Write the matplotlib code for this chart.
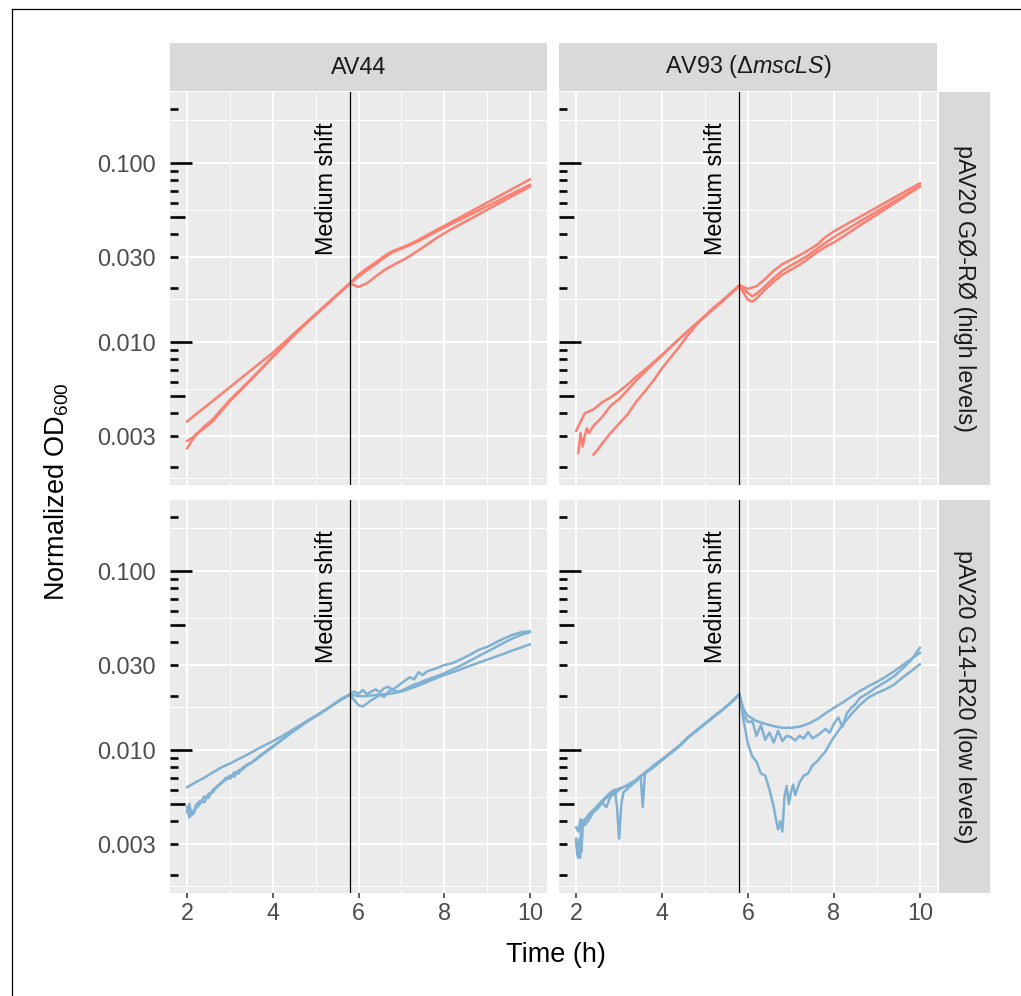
import matplotlib
matplotlib.use('Agg')
import matplotlib.pyplot as plt
from matplotlib.transforms import blended_transform_factory
from matplotlib.lines import Line2D
from matplotlib.ticker import FixedLocator, NullFormatter

plt.rcParams['font.family'] = ['Liberation Sans', 'DejaVu Sans']
plt.rcParams['mathtext.fontset'] = 'custom'
plt.rcParams['mathtext.rm'] = 'Liberation Sans'
plt.rcParams['mathtext.it'] = 'Liberation Sans:italic'

# ---- data (time in h, normalized OD600) ----
strains = ['AV44', 'AV93 (Δ$\\mathit{mscLS}$)']
plasmids = ['pAV20 GØ-RØ (high levels)', 'pAV20 G14-R20 (low levels)']
line_colors = ['#FB8072', '#80B1D3']
shift_time = 5.8

y_breaks = [0.003, 0.010, 0.030, 0.100]
y_labels = ['0.003', '0.010', '0.030', '0.100']
x_breaks = [2, 4, 6, 8, 10]

hours = [2.0, 2.2, 2.4, 2.6, 2.8, 3.0, 3.2, 3.4, 3.6, 3.8, 4.0, 4.2, 4.4, 4.6, 4.8,
         5.0, 5.2, 5.4, 5.6, 5.8, 6.0, 6.2, 6.4, 6.6, 6.8, 7.0, 7.2, 7.4, 7.6, 7.8,
         8.0, 8.2, 8.4, 8.6, 8.8, 9.0, 9.2, 9.4, 9.6, 9.8, 10.0]

# AV44, high levels
av44_hi_1 = [0.00360, 0.00394, 0.00430, 0.00469, 0.00513, 0.00560, 0.00612, 0.00668, 0.00730, 0.00798,
             0.00871, 0.00962, 0.01062, 0.01175, 0.01297, 0.01432, 0.01581, 0.01746, 0.01928, 0.02128,
             0.0238, 0.0258, 0.0278, 0.0302, 0.0322, 0.0336, 0.0352, 0.0372, 0.0395, 0.0420,
             0.0445, 0.0472, 0.0501, 0.0532, 0.0565, 0.0600, 0.0637, 0.0676, 0.0718, 0.0762, 0.0809]
av44_hi_2 = [0.00280, 0.00300, 0.00338, 0.00370, 0.00420, 0.00475, 0.00530, 0.00590, 0.00660, 0.00740,
             0.00830, 0.00930, 0.01040, 0.01160, 0.01290, 0.01425, 0.01575, 0.01740, 0.01925, 0.02125,
             0.0232, 0.0252, 0.0272, 0.0296, 0.0318, 0.0332, 0.0348, 0.0366, 0.0388, 0.0412,
             0.0436, 0.0460, 0.0486, 0.0514, 0.0543, 0.0573, 0.0605, 0.0640, 0.0676, 0.0714, 0.0755]
av44_hi_3 = [0.00255, 0.00305, 0.00330, 0.00362, 0.00412, 0.00468, 0.00522, 0.00585, 0.00655, 0.00735,
             0.00825, 0.00925, 0.01035, 0.01155, 0.01285, 0.01420, 0.01570, 0.01735, 0.01920, 0.02120,
             0.0203, 0.0213, 0.0232, 0.0252, 0.0268, 0.0284, 0.0302, 0.0325, 0.0350, 0.0378,
             0.0405, 0.0431, 0.0457, 0.0485, 0.0515, 0.0547, 0.0581, 0.0617, 0.0655, 0.0695, 0.0738]

# AV93, high levels
av93_hi_1 = [0.0032, 0.0040, 0.0042, 0.0046, 0.0049, 0.0053, 0.0058, 0.0064, 0.0070, 0.0077,
             0.0085, 0.0094, 0.0104, 0.0115, 0.0127, 0.0140, 0.0154, 0.0170, 0.0188, 0.0208,
             0.0198, 0.0205, 0.0225, 0.0250, 0.0272, 0.0288, 0.0305, 0.0325, 0.0348, 0.0385,
             0.0415, 0.0441, 0.0470, 0.0499, 0.0531, 0.0565, 0.0601, 0.0640, 0.0680, 0.0723, 0.0769]
av93_hi_2_t = [2.05, 2.1, 2.15, 2.2, 2.25, 2.3, 2.4, 2.6, 2.8, 3.0, 3.2, 3.4, 3.6, 3.8, 4.0, 4.2, 4.4,
               4.6, 4.8, 5.0, 5.2, 5.4, 5.6, 5.8, 6.0, 6.1, 6.2, 6.4, 6.6, 6.8, 7.0, 7.2, 7.4, 7.6,
               7.8, 8.0, 8.2, 8.4, 8.6, 8.8, 9.0, 9.2, 9.4, 9.6, 9.8, 10.0]
av93_hi_2 = [0.0024, 0.0031, 0.0026, 0.0030, 0.0033, 0.0031, 0.0034, 0.0038, 0.0044, 0.0048, 0.0054,
             0.0061, 0.0068, 0.0076, 0.0084, 0.0094, 0.0104, 0.0115, 0.0127, 0.0139, 0.0153, 0.0168,
             0.0186, 0.0206, 0.0188, 0.0180, 0.0186, 0.0205, 0.0228, 0.0250, 0.0268, 0.0285, 0.0305,
             0.0330, 0.0358, 0.0385, 0.0412, 0.0440, 0.0470, 0.0502, 0.0536, 0.0572, 0.0610, 0.0651,
             0.0695, 0.0742]
av93_hi_3_t = [2.4, 2.5, 2.6, 2.8, 3.0, 3.2, 3.4, 3.6, 3.8, 4.0, 4.2, 4.4, 4.6, 4.8, 5.0, 5.2, 5.4,
               5.6, 5.8, 6.0, 6.1, 6.2, 6.4, 6.6, 6.8, 7.0, 7.2, 7.4, 7.6, 7.8, 8.0, 8.2, 8.4, 8.6,
               8.8, 9.0, 9.2, 9.4, 9.6, 9.8, 10.0]
av93_hi_3 = [0.00235, 0.00250, 0.00270, 0.00310, 0.00350, 0.00395, 0.00465, 0.00530, 0.00610, 0.00715,
             0.00820, 0.00940, 0.01090, 0.01250, 0.01400, 0.01560, 0.01700, 0.01870, 0.02050,
             0.0172, 0.0168, 0.0175, 0.0196, 0.0218, 0.0238, 0.0253, 0.0270, 0.0292, 0.0316, 0.0340,
             0.0360, 0.0386, 0.0415, 0.0447, 0.0480, 0.0515, 0.0553, 0.0594, 0.0640, 0.0687, 0.0738]

# AV44, low levels
av44_lo_1 = [0.0062, 0.0066, 0.0070, 0.0075, 0.0080, 0.0084, 0.0089, 0.0094, 0.0100, 0.0106,
             0.0112, 0.0119, 0.0127, 0.0136, 0.0145, 0.0155, 0.0166, 0.0178, 0.0191, 0.0204,
             0.0200, 0.0200, 0.0203, 0.0205, 0.0207, 0.0212, 0.0220, 0.0229, 0.0240, 0.0251,
             0.0262, 0.0272, 0.0283, 0.0295, 0.0307, 0.0319, 0.0332, 0.0345, 0.0360, 0.0374, 0.0389]
av44_lo_2_t = [2.0, 2.05, 2.1, 2.15, 2.2, 2.3, 2.4, 2.5, 2.6, 2.7, 2.8, 2.9, 3.0, 3.1, 3.2, 3.3, 3.4,
               3.6, 3.8, 4.0, 4.2, 4.4, 4.6, 4.8, 5.0, 5.2, 5.4, 5.6, 5.8, 5.9, 6.0, 6.1, 6.2, 6.3,
               6.4, 6.5, 6.6, 6.7, 6.8, 6.9, 7.0, 7.2, 7.3, 7.4, 7.5, 7.6, 7.8, 8.0, 8.2, 8.4, 8.6,
               8.8, 9.0, 9.2, 9.4, 9.6, 9.8, 10.0]
av44_lo_2 = [0.0048, 0.0042, 0.0046, 0.0044, 0.0049, 0.0052, 0.0051, 0.0057, 0.0058, 0.0063, 0.0065,
             0.0070, 0.0069, 0.0075, 0.0074, 0.0080, 0.0082, 0.0088, 0.0096, 0.0104, 0.0113, 0.0123,
             0.0133, 0.0144, 0.0154, 0.0165, 0.0178, 0.0192, 0.0203, 0.0190, 0.0178, 0.0175, 0.0182,
             0.0190, 0.0196, 0.0203, 0.0198, 0.0212, 0.0218, 0.0226, 0.0236, 0.0255, 0.0248, 0.0272,
             0.0262, 0.0275, 0.0285, 0.0298, 0.0306, 0.0322, 0.0340, 0.0362, 0.0376, 0.0398, 0.0420,
             0.0440, 0.0455, 0.0460]
av44_lo_3_t = [2.0, 2.05, 2.1, 2.2, 2.3, 2.4, 2.5, 2.6, 2.7, 2.8, 2.9, 3.0, 3.1, 3.2, 3.3, 3.4, 3.5,
               3.6, 3.8, 4.0, 4.2, 4.4, 4.6, 4.8, 5.0, 5.2, 5.4, 5.6, 5.8, 5.9, 6.0, 6.1, 6.2, 6.3,
               6.4, 6.5, 6.6, 6.7, 6.8, 6.9, 7.0, 7.1, 7.2, 7.3, 7.4, 7.5, 7.6, 7.8, 8.0, 8.2, 8.4,
               8.6, 8.8, 9.0, 9.2, 9.4, 9.6, 9.8, 10.0]
av44_lo_3 = [0.0045, 0.0050, 0.0043, 0.0047, 0.0050, 0.0055, 0.0054, 0.0060, 0.0062, 0.0066, 0.0068,
             0.0072, 0.0071, 0.0077, 0.0078, 0.0083, 0.0085, 0.0089, 0.0097, 0.0105, 0.0114, 0.0124,
             0.0134, 0.0145, 0.0155, 0.0166, 0.0179, 0.0193, 0.0205, 0.0212, 0.0206, 0.0216, 0.0205,
             0.0212, 0.0218, 0.0210, 0.0222, 0.0225, 0.0216, 0.0212, 0.0214, 0.0220, 0.0226, 0.0232,
             0.0236, 0.0242, 0.0247, 0.0257, 0.0268, 0.0282, 0.0297, 0.0315, 0.0334, 0.0354, 0.0375,
             0.0398, 0.0420, 0.0440, 0.0455]

# AV93, low levels
av93_lo_1_t = [2.0, 2.05, 2.1, 2.2, 2.3, 2.4, 2.5, 2.6, 2.7, 2.8, 2.9, 3.0, 3.1, 3.2, 3.3, 3.4, 3.5,
               3.6, 3.7, 3.8, 4.0, 4.2, 4.4, 4.6, 4.8, 5.0, 5.2, 5.4, 5.6, 5.8, 5.9, 6.0, 6.2, 6.4,
               6.6, 6.8, 7.0, 7.2, 7.4, 7.6, 7.8, 8.0, 8.2, 8.4, 8.6, 8.8, 9.0, 9.2, 9.4, 9.6, 9.8, 10.0]
av93_lo_1 = [0.0037, 0.0035, 0.0041, 0.0040, 0.0044, 0.0046, 0.0048, 0.0051, 0.0054, 0.0056, 0.0059,
             0.0061, 0.0062, 0.0064, 0.0066, 0.0068, 0.0071, 0.0074, 0.0077, 0.0081, 0.0088, 0.0096,
             0.0105, 0.0117, 0.0128, 0.0140, 0.0153, 0.0167, 0.0183, 0.0204, 0.0168, 0.0155, 0.0145,
             0.0140, 0.0136, 0.0133, 0.0133, 0.0135, 0.0140, 0.0148, 0.0160, 0.0172, 0.0184, 0.0198,
             0.0213, 0.0227, 0.0240, 0.0256, 0.0275, 0.0298, 0.0322, 0.0349]
av93_lo_2_t = [2.0, 2.03, 2.06, 2.09, 2.12, 2.2, 2.3, 2.4, 2.5, 2.6, 2.7, 2.8, 2.9, 2.95, 3.0, 3.05,
               3.1, 3.2, 3.3, 3.4, 3.5, 3.6, 3.7, 3.8, 4.0, 4.2, 4.4, 4.6, 4.8, 5.0, 5.2, 5.4, 5.6,
               5.8, 5.9, 6.0, 6.1, 6.2, 6.3, 6.4, 6.5, 6.6, 6.7, 6.8, 6.9, 7.0, 7.1, 7.2, 7.3, 7.4,
               7.5, 7.6, 7.7, 7.8, 7.9, 8.0, 8.1, 8.2, 8.3, 8.4, 8.5, 8.6, 8.8, 9.0, 9.2, 9.4, 9.6,
               9.8, 10.0]
av93_lo_2 = [0.0031, 0.0026, 0.0029, 0.0025, 0.0039, 0.0041, 0.0043, 0.0046, 0.0049, 0.0052, 0.0055,
             0.0058, 0.0060, 0.0048, 0.0032, 0.0050, 0.0058, 0.0061, 0.0064, 0.0067, 0.0071, 0.0075,
             0.0078, 0.0082, 0.0089, 0.0097, 0.0106, 0.0118, 0.0128, 0.0141, 0.0154, 0.0168, 0.0184,
             0.0205, 0.0158, 0.0143, 0.0145, 0.0120, 0.0138, 0.0114, 0.0125, 0.0110, 0.0128, 0.0112,
             0.0120, 0.0118, 0.0113, 0.0120, 0.0116, 0.0126, 0.0116, 0.0120, 0.0125, 0.0131, 0.0125,
             0.0140, 0.0152, 0.0135, 0.0160, 0.0172, 0.0180, 0.0195, 0.0208, 0.0225, 0.0240, 0.0258,
             0.0285, 0.0318, 0.0372]
av93_lo_3_t = [2.0, 2.04, 2.08, 2.12, 2.16, 2.2, 2.3, 2.4, 2.5, 2.6, 2.7, 2.8, 2.9, 3.0, 3.1, 3.2,
               3.3, 3.4, 3.5, 3.55, 3.6, 3.7, 3.8, 4.0, 4.2, 4.4, 4.6, 4.8, 5.0, 5.2, 5.4, 5.6, 5.8,
               5.9, 6.0, 6.1, 6.2, 6.3, 6.4, 6.5, 6.6, 6.65, 6.7, 6.75, 6.8, 6.85, 6.9, 6.95, 7.0,
               7.05, 7.1, 7.2, 7.3, 7.4, 7.5, 7.6, 7.7, 7.8, 7.9, 8.0, 8.2, 8.4, 8.6, 8.8, 9.0, 9.2,
               9.4, 9.6, 9.8, 10.0]
av93_lo_3 = [0.0032, 0.0025, 0.0032, 0.0027, 0.0040, 0.0038, 0.0041, 0.0045, 0.0047, 0.0051, 0.0048,
             0.0055, 0.0057, 0.0060, 0.0062, 0.0063, 0.0066, 0.0068, 0.0072, 0.0048, 0.0074, 0.0077,
             0.0080, 0.0088, 0.0096, 0.0105, 0.0117, 0.0129, 0.0140, 0.0153, 0.0167, 0.0184, 0.0206,
             0.0145, 0.0108, 0.0092, 0.0086, 0.0074, 0.0072, 0.0060, 0.0048, 0.0041, 0.0036, 0.0040,
             0.0035, 0.0055, 0.0063, 0.0050, 0.0058, 0.0064, 0.0056, 0.0066, 0.0072, 0.0074, 0.0082,
             0.0086, 0.0092, 0.0098, 0.0108, 0.0118, 0.0138, 0.0158, 0.0178, 0.0196, 0.0208, 0.0218,
             0.0232, 0.0254, 0.0276, 0.0301]

panels = {
    (0, 0): [(hours, av44_hi_1), (hours, av44_hi_2), (hours, av44_hi_3)],
    (0, 1): [(hours, av93_hi_1), (av93_hi_2_t, av93_hi_2), (av93_hi_3_t, av93_hi_3)],
    (1, 0): [(hours, av44_lo_1), (av44_lo_2_t, av44_lo_2), (av44_lo_3_t, av44_lo_3)],
    (1, 1): [(av93_lo_1_t, av93_lo_1), (av93_lo_2_t, av93_lo_2), (av93_lo_3_t, av93_lo_3)],
}

# ---- layout (pixels of the 1021x996 canvas) ----
W, H = 1021, 996
fig = plt.figure(figsize=(W / 100, H / 100), dpi=100)


def box(x0, y0, x1, y1):
    return [x0 / W, 1 - y1 / H, (x1 - x0) / W, (y1 - y0) / H]


col_px = [(170, 547), (559, 937)]
row_px = [(92, 485), (500, 893)]
strip_bg = '#D9D9D9'
txt_size = 16.8

minor_y = [0.001732, 0.005477, 0.01732, 0.05477, 0.1732]

for (r, c), curves in panels.items():
    x0, x1 = col_px[c]
    y0, y1 = row_px[r]
    ax = fig.add_axes(box(x0, y0, x1, y1))
    ax.set_facecolor('#EBEBEB')
    for s in ax.spines.values():
        s.set_visible(False)
    ax.set_yscale('log')
    ax.set_xlim(1.6, 10.4)
    ax.set_ylim(0.00159, 0.249)

    # grid
    for xv in [3, 5, 7, 9]:
        ax.axvline(xv, color='white', lw=0.75, zorder=0.5)
    for yv in minor_y:
        ax.axhline(yv, color='white', lw=0.75, zorder=0.5)
    for xv in x_breaks:
        ax.axvline(xv, color='white', lw=1.45, zorder=0.6)
    for yv in y_breaks:
        ax.axhline(yv, color='white', lw=1.45, zorder=0.6)

    for t, od in curves:
        ax.plot(t, od, color=line_colors[r], lw=1.8, zorder=2, solid_joinstyle='round')

    ax.axvline(shift_time, color='black', lw=0.9, zorder=3)
    ax.text(5.25, 0.072, 'Medium shift', rotation=90, ha='center', va='center',
            fontsize=txt_size, color='black', zorder=3)

    # log ticks along the left edge
    tr = blended_transform_factory(ax.transAxes, ax.transData)
    for dec in [0.001, 0.01, 0.1]:
        for m in range(1, 10):
            v = m * dec
            ln = 22 if m == 1 else (15 if m == 5 else 8)
            ax.plot([0, ln / (x1 - x0)], [v, v], color='black', lw=1.9,
                    transform=tr, solid_capstyle='butt', zorder=4)

    ax.xaxis.set_major_locator(FixedLocator(x_breaks))
    ax.yaxis.set_major_locator(FixedLocator(y_breaks))
    ax.yaxis.set_minor_locator(FixedLocator([]))
    ax.yaxis.set_minor_formatter(NullFormatter())
    ax.tick_params(axis='y', length=0, pad=10, labelsize=txt_size, labelcolor='#4D4D4D')
    ax.tick_params(axis='x', length=3.7, width=1.1, color='#333333', pad=2.5,
                   labelsize=txt_size, labelcolor='#4D4D4D')
    if c == 0:
        ax.set_yticklabels(y_labels)
    else:
        ax.set_yticklabels([])
    if r == 1:
        ax.set_xticklabels([str(v) for v in x_breaks])
    else:
        ax.set_xticklabels([])
        ax.tick_params(axis='x', length=0)

    # strips
    if r == 0:
        sa = fig.add_axes(box(x0, 43, x1, 91))
        sa.set_facecolor(strip_bg)
        sa.set_xticks([])
        sa.set_yticks([])
        for s in sa.spines.values():
            s.set_visible(False)
        sa.text(0.5, 0.5, strains[c], ha='center', va='center', fontsize=txt_size,
                color='#1A1A1A', transform=sa.transAxes)
    if c == 1:
        sa = fig.add_axes(box(939, y0, 990, y1))
        sa.set_facecolor(strip_bg)
        sa.set_xticks([])
        sa.set_yticks([])
        for s in sa.spines.values():
            s.set_visible(False)
        sa.text(0.5, 0.5, plasmids[r], ha='center', va='center', rotation=-90,
                fontsize=txt_size, color='#1A1A1A', transform=sa.transAxes)

fig.text(57 / W, 1 - 492 / H, 'Normalized OD$_{600}$', rotation=90, ha='center',
         va='center', fontsize=19.5, color='black')
fig.text(556 / W, 1 - 955 / H, 'Time (h)', ha='center', va='center', fontsize=19.5,
         color='black')

# outer frame (left and top edges only)
fig.add_artist(Line2D([11.5 / W, 11.5 / W], [0, 1 - 9.5 / H], color='black', lw=0.9,
                      transform=fig.transFigure))
fig.add_artist(Line2D([11.5 / W, 1], [1 - 9.5 / H, 1 - 9.5 / H], color='black', lw=0.9,
                      transform=fig.transFigure))

fig.savefig('out.png', dpi=100, facecolor='white')
